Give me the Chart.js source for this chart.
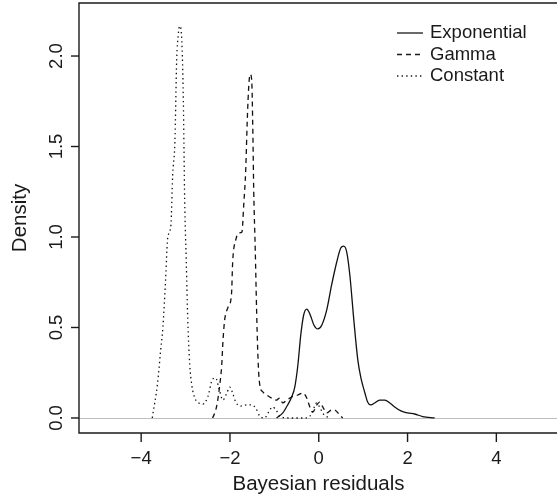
<!DOCTYPE html>
<html lang="en">
<head>
  <meta charset="UTF-8">
  <title>Bayesian residuals density</title>
  <style>
    body { margin: 0; background: #fff; }
    canvas { display: block; }
  </style>
</head>
<body>
  <canvas id="densityChart" width="557" height="496"></canvas>

  <script src="https://cdn.jsdelivr.net/npm/chart.js"></script>
  <script>
    // Density curves
    const expX = [-0.95, -0.81, -0.70, -0.61, -0.54, -0.47, -0.405, -0.34, -0.27, -0.20, -0.11, -0.02, 0.07, 0.18, 0.29, 0.405, 0.495, 0.56, 0.63, 0.70, 0.79, 0.88, 0.96, 1.04, 1.10, 1.17, 1.26, 1.37, 1.49, 1.60, 1.71, 1.85, 2.00, 2.16, 2.34, 2.61];
    const expY = [0.0, 0.028, 0.072, 0.116, 0.171, 0.293, 0.459, 0.569, 0.602, 0.575, 0.514, 0.492, 0.514, 0.597, 0.735, 0.862, 0.939, 0.95, 0.917, 0.79, 0.541, 0.32, 0.21, 0.138, 0.088, 0.072, 0.083, 0.099, 0.099, 0.083, 0.061, 0.039, 0.028, 0.022, 0.008, 0.0];

    const gamX = [-2.39, -2.32, -2.275, -2.23, -2.185, -2.16, -2.12, -2.05, -1.98, -1.96, -1.94, -1.87, -1.80, -1.73, -1.69, -1.645, -1.61, -1.575, -1.545, -1.51, -1.485, -1.465, -1.43, -1.40, -1.375, -1.35, -1.32, -1.26, -1.17, -1.06, -0.95, -0.88, -0.81, -0.72, -0.61, -0.47, -0.36, -0.27, -0.20, -0.135, -0.045, 0.02, 0.09, 0.18, 0.29, 0.36, 0.47, 0.54];
    const gamY = [0.0, 0.044, 0.099, 0.182, 0.293, 0.414, 0.541, 0.608, 0.652, 0.707, 0.856, 0.983, 1.022, 1.028, 1.177, 1.37, 1.646, 1.84, 1.9, 1.867, 1.591, 1.26, 0.928, 0.597, 0.376, 0.238, 0.171, 0.144, 0.127, 0.11, 0.099, 0.11, 0.083, 0.099, 0.116, 0.127, 0.138, 0.11, 0.061, 0.033, 0.072, 0.088, 0.061, 0.028, 0.044, 0.044, 0.017, 0.0];

    const conX = [-3.75, -3.63, -3.56, -3.51, -3.45, -3.42, -3.40, -3.33, -3.29, -3.24, -3.20, -3.165, -3.13, -3.085, -3.05, -3.02, -2.985, -2.95, -2.905, -2.86, -2.79, -2.70, -2.61, -2.50, -2.39, -2.32, -2.25, -2.16, -2.07, -2.005, -1.94, -1.87, -1.76, -1.62, -1.51, -1.42, -1.33, -1.22, -1.13, -1.04, -0.95, -0.86, -0.65, -0.32, -0.20, -0.11, -0.05, 0.02, 0.11, 0.25];
    const conY = [0.0, 0.193, 0.376, 0.503, 0.762, 0.928, 1.0, 1.066, 1.343, 1.525, 1.978, 2.116, 2.166, 2.088, 1.757, 1.204, 0.873, 0.541, 0.293, 0.182, 0.11, 0.083, 0.077, 0.116, 0.215, 0.221, 0.166, 0.099, 0.138, 0.171, 0.138, 0.088, 0.066, 0.072, 0.072, 0.055, 0.011, 0.0, 0.033, 0.061, 0.039, 0.006, 0.0, 0.0, 0.01, 0.055, 0.083, 0.06, 0.02, 0.0];

    const seriesNames = ['Exponential', 'Gamma', 'Constant'];
    const seriesDash = [[], [5, 4], [1.4, 3.2]];
    const xTicks = [-4, -2, 0, 2, 4];
    const yTicks = [0.0, 0.5, 1.0, 1.5, 2.0];
    const xTitle = 'Bayesian residuals';
    const yTitle = 'Density';

    const toPoints = (xs, ys) => xs.map((x, i) => ({ x: x, y: ys[i] }));
    const minus = v => String(v).replace('-', '\u2212');

    // R-like frame, axes, labels and legend drawn on the chart scales
    const rFrame = {
      id: 'rFrame',
      beforeDatasetsDraw(chart) {
        const { ctx, chartArea: a, scales: { y } } = chart;
        const y0 = Math.round(y.getPixelForValue(0)) + 0.5;
        ctx.save();
        ctx.strokeStyle = '#bebebe';
        ctx.lineWidth = 1;
        ctx.beginPath();
        ctx.moveTo(a.left, y0);
        ctx.lineTo(a.right, y0);
        ctx.stroke();
        ctx.restore();
      },
      afterDraw(chart) {
        const { ctx, chartArea: a, scales: { x, y } } = chart;
        ctx.save();
        ctx.strokeStyle = '#1a1a1a';
        ctx.lineWidth = 1.4;
        ctx.beginPath();
        ctx.moveTo(a.right + 2, a.top);
        ctx.lineTo(a.left, a.top);
        ctx.lineTo(a.left, a.bottom);
        ctx.lineTo(a.right + 2, a.bottom);
        ctx.stroke();

        ctx.fillStyle = '#1a1a1a';
        ctx.font = '18.5px "Liberation Sans", Arial, sans-serif';

        // x ticks
        ctx.textAlign = 'center';
        ctx.textBaseline = 'middle';
        xTicks.forEach(v => {
          const px = x.getPixelForValue(v);
          ctx.beginPath();
          ctx.moveTo(px, a.bottom);
          ctx.lineTo(px, a.bottom + 9);
          ctx.stroke();
          ctx.fillText(minus(v), px, a.bottom + 26);
        });

        // y ticks, labels rotated like R
        yTicks.forEach(v => {
          const py = y.getPixelForValue(v);
          ctx.beginPath();
          ctx.moveTo(a.left, py);
          ctx.lineTo(a.left - 8, py);
          ctx.stroke();
          ctx.save();
          ctx.translate(a.left - 22, py);
          ctx.rotate(-Math.PI / 2);
          ctx.fillText(v.toFixed(1), 0, 0);
          ctx.restore();
        });

        // titles
        ctx.font = '20.5px "Liberation Sans", Arial, sans-serif';
        ctx.fillText(xTitle, (a.left + 558) / 2, a.bottom + 51);
        ctx.save();
        ctx.translate(20, (a.top + a.bottom) / 2);
        ctx.rotate(-Math.PI / 2);
        ctx.fillText(yTitle, 0, 0);
        ctx.restore();

        // legend
        ctx.font = '18.5px "Liberation Sans", Arial, sans-serif';
        ctx.textAlign = 'left';
        ctx.lineWidth = 1.3;
        seriesNames.forEach((name, i) => {
          const ly = 33 + i * 21.5;
          ctx.setLineDash(seriesDash[i]);
          ctx.beginPath();
          ctx.moveTo(397, ly);
          ctx.lineTo(423, ly);
          ctx.stroke();
          ctx.setLineDash([]);
          ctx.fillText(name, 430, ly);
        });
        ctx.restore();
      }
    };

    const lineStyle = i => ({
      label: seriesNames[i],
      showLine: true,
      borderColor: '#111',
      borderWidth: 1.3,
      borderDash: seriesDash[i],
      pointRadius: 0,
      cubicInterpolationMode: 'monotone',
      fill: false
    });

    new Chart(document.getElementById('densityChart').getContext('2d'), {
      type: 'scatter',
      data: {
        datasets: [
          Object.assign(lineStyle(0), { data: toPoints(expX, expY) }),
          Object.assign(lineStyle(1), { data: toPoints(gamX, gamY) }),
          Object.assign(lineStyle(2), { data: toPoints(conX, conY) })
        ]
      },
      options: {
        responsive: false,
        animation: false,
        layout: { padding: { left: 79, top: 3, right: 0, bottom: 63 } },
        plugins: { legend: { display: false }, tooltip: { enabled: false } },
        scales: {
          x: { type: 'linear', display: false, min: -5.4, max: 5.366 },
          y: { type: 'linear', display: false, min: -0.083, max: 2.293 }
        }
      },
      plugins: [rFrame]
    });
  </script>
</body>
</html>
